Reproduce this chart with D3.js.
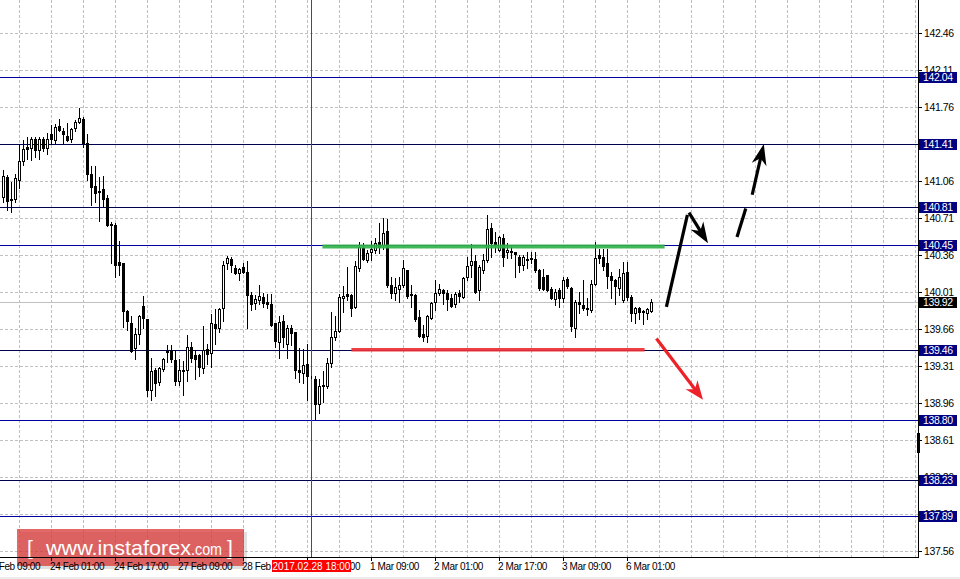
<!DOCTYPE html>
<html>
<head>
<meta charset="utf-8">
<script src="https://cdnjs.cloudflare.com/ajax/libs/d3/7.8.5/d3.min.js"></script>
<style>
body { margin: 0; background: #fff; }
svg { display: block; font-family: "Liberation Sans", Arial, sans-serif; }
</style>
</head>
<body>
<svg width="960" height="579"></svg>
<script>
// H1 candles, 23 Feb 13:00 .. 6 Mar 07:00
const opens = [140.91,141.10,140.89,140.89,141.07,141.25,141.38,141.37,141.46,141.35,141.46,141.37,141.50,141.45,141.58,141.53,141.49,141.46,141.56,141.62,
141.65,141.42,141.13,141.01,140.97,140.98,140.90,140.64,140.64,140.29,140.28,139.83,139.72,139.48,139.61,139.88,139.75,139.08,139.27,139.16,
139.28,139.45,139.46,139.37,139.17,139.27,139.27,139.49,139.41,139.41,139.29,139.47,139.43,139.71,139.67,139.86,140.28,140.32,140.24,140.19,
140.25,140.20,139.98,139.91,139.93,139.96,139.92,139.90,139.72,139.54,139.74,139.52,139.67,139.63,139.27,139.24,139.33,139.21,139.19,138.95,
139.12,139.12,139.34,139.58,139.64,139.95,139.99,139.98,139.87,140.24,140.43,140.31,140.39,140.41,140.48,140.45,140.59,140.08,140.00,140.04,
140.08,140.22,139.99,139.98,139.77,139.61,139.59,139.76,139.92,140.00,140.03,140.00,139.95,139.90,140.00,139.96,140.15,140.27,140.30,140.03,
140.22,140.31,140.62,140.48,140.41,140.52,140.39,140.40,140.39,140.34,140.27,140.32,140.33,140.32,140.22,140.15,140.17,140.04,139.94,140.03,
139.95,140.13,140.05,139.67,139.92,139.89,139.86,139.84,140.09,140.36,140.34,140.28,140.16,140.12,140.05,139.93,140.20,139.96,139.81,139.86,
139.82,139.81,139.83];
const highs = [141.16,141.12,141.05,141.13,141.40,141.45,141.48,141.48,141.48,141.48,141.48,141.51,141.59,141.60,141.65,141.56,141.61,141.56,141.64,141.75,
141.67,141.50,141.20,141.20,141.10,141.11,140.93,140.67,140.66,140.49,140.28,139.84,139.78,139.67,139.79,139.97,139.75,139.39,139.29,139.30,
139.39,139.51,139.51,139.46,139.38,139.36,139.60,139.54,139.46,139.42,139.69,139.52,139.80,139.85,139.86,140.30,140.35,140.34,140.27,140.24,
140.28,140.30,140.01,139.98,140.08,140.00,139.99,139.99,139.72,139.78,139.79,139.70,139.70,139.63,139.48,139.47,139.52,139.22,139.22,139.19,
139.26,139.39,139.82,139.78,139.99,140.07,140.25,139.99,140.30,140.48,140.47,140.41,140.49,140.52,140.66,140.71,140.70,140.15,140.14,140.15,
140.31,140.22,140.08,139.99,139.84,139.70,139.79,139.92,140.12,140.09,140.04,140.03,139.99,140.01,140.03,140.15,140.34,140.46,140.36,140.27,
140.37,140.74,140.66,140.58,140.54,140.56,140.47,140.45,140.39,140.36,140.36,140.39,140.39,140.39,140.23,140.23,140.17,140.06,140.04,140.05,
140.15,140.15,140.06,139.93,140.01,140.12,139.95,140.12,140.48,140.42,140.42,140.42,140.20,140.13,140.23,140.29,140.29,139.98,139.87,139.87,
139.84,139.86,139.94];
const lows = [140.86,140.79,140.77,140.86,140.99,141.21,141.27,141.26,141.29,141.27,141.34,141.32,141.42,141.42,141.53,141.42,141.44,141.43,141.53,141.61,
141.38,141.07,140.83,140.86,140.68,140.82,140.63,140.28,140.15,140.17,139.68,139.65,139.44,139.38,139.52,139.67,139.03,138.99,139.03,139.13,
139.26,139.35,139.35,139.13,139.13,139.04,139.17,139.35,139.19,139.22,139.24,139.33,139.30,139.52,139.63,139.74,140.23,140.20,140.18,140.12,
140.19,139.67,139.84,139.85,139.90,139.87,139.86,139.69,139.49,139.39,139.49,139.39,139.51,139.20,139.16,139.15,138.99,139.20,138.81,138.87,
138.97,139.10,139.30,139.56,139.63,139.82,139.93,139.78,139.86,140.21,140.31,140.29,140.31,140.38,140.38,140.42,140.06,139.95,139.93,139.92,
140.06,139.95,139.87,139.74,139.58,139.55,139.54,139.75,139.84,139.98,139.90,139.84,139.87,139.87,139.92,139.95,140.12,140.15,140.00,139.93,
140.19,140.29,140.34,140.39,140.40,140.26,140.33,140.33,140.15,140.20,140.22,140.24,140.28,140.20,140.03,140.03,140.02,139.94,139.89,139.87,
139.92,140.05,139.64,139.58,139.81,139.84,139.79,139.82,140.08,140.28,140.22,140.05,139.95,139.90,139.98,139.92,139.93,139.74,139.72,139.75,
139.71,139.75,139.82];
const closes = [141.11,140.87,140.88,141.09,141.25,141.36,141.36,141.46,141.35,141.46,141.37,141.46,141.46,141.57,141.54,141.50,141.45,141.55,141.62,141.66,
141.42,141.13,141.00,140.95,140.96,140.89,140.64,140.65,140.27,140.27,139.83,139.74,139.45,139.61,139.78,139.76,139.08,139.26,139.15,139.29,
139.38,139.44,139.38,139.17,139.27,139.26,139.49,139.39,139.38,139.30,139.46,139.42,139.72,139.67,139.85,140.27,140.33,140.27,140.19,140.23,
140.20,139.98,139.90,139.94,139.97,139.91,139.90,139.70,139.55,139.73,139.58,139.67,139.62,139.27,139.25,139.32,139.22,139.21,138.95,139.12,
139.13,139.34,139.58,139.64,139.96,139.97,139.97,139.86,140.26,140.44,140.32,140.38,140.42,140.47,140.44,140.57,140.08,140.00,140.06,140.08,
140.24,139.97,139.98,139.75,139.59,139.58,139.78,139.91,140.00,140.04,140.00,139.94,139.88,139.99,139.97,140.14,140.26,140.30,140.01,140.25,
140.31,140.61,140.47,140.45,140.53,140.34,140.41,140.39,140.37,140.27,140.34,140.31,140.32,140.22,140.05,140.04,140.03,139.95,140.01,139.95,
140.12,140.07,139.69,139.92,139.90,139.86,139.85,140.09,140.33,140.33,140.26,140.16,140.12,140.07,140.15,140.19,139.96,139.81,139.86,139.82,
139.83,139.85,139.92];

const priceTicks = [142.46, 142.11, 141.76, 141.41, 141.06, 140.71, 140.36, 140.01, 139.66, 139.31, 138.96, 138.61, 138.26, 137.91, 137.56];
const levels = [142.04, 141.41, 140.81, 140.45, 139.46, 138.80, 138.23, 137.89];
const levelColors = ["#0000a0", "#000050", "#000050", "#0000a0", "#000050", "#0000a0", "#000050", "#0000a0"];
const timeIdx = [-4, 12, 28, 44, 60, 76, 92, 108, 124, 140, 156];
const timeLabels = ["23 Feb 09:00", "24 Feb 01:00", "24 Feb 17:00", "27 Feb 09:00", "28 Feb 01:00", "28 Feb 17:00",
  "1 Mar 09:00", "2 Mar 01:00", "2 Mar 17:00", "3 Mar 09:00", "6 Mar 01:00"];
const bid = 139.92;
const crossIdx = 77;
const crossLabel = "2017.02.28 18:00";

// drawn objects: [candle index, price]
const resistance = [[79.85, 140.44], [165.4, 140.44]];
const support = [[87.1, 139.46], [160.4, 139.46]];
const blackLines = [
  { pts: [[165.85, 139.87], [171.1, 140.74]], head: false },
  { pts: [[171.5, 140.76], [176.25, 140.47]], head: true },
  { pts: [[183.5, 140.53], [185.7, 140.80]], head: false },
  { pts: [[187.3, 140.93], [190.2, 141.41]], head: true }
];
const redArrow = [[163.35, 139.57], [175.0, 138.99]];

const svg = d3.select("svg");
const axisX = 918, axisY = 557;

const x = d3.scaleLinear().domain([0, opens.length - 1]).range([3, 651]);
const y = d3.scaleLinear().domain([137.56, 142.46]).range([551, 33]);
const px = i => Math.round(x(i));
const py = v => Math.round(y(v));

// grid
const grid = svg.append("g").attr("shape-rendering", "crispEdges")
  .attr("stroke", "#c0c0c0").attr("stroke-dasharray", "3,2");
grid.selectAll(".gh").data(priceTicks).join("line").attr("class", "gh")
  .attr("x1", 0).attr("x2", axisX).attr("y1", d => py(d) + 0.5).attr("y2", d => py(d) + 0.5);
grid.selectAll(".gv").data(d3.range(4, 232, 8).filter(i => x(i) < axisX)).join("line").attr("class", "gv")
  .attr("x1", d => px(d) + 0.5).attr("x2", d => px(d) + 0.5).attr("y1", 0).attr("y2", axisY);

// level lines, bid line, crosshair
const lines = svg.append("g").attr("shape-rendering", "crispEdges");
lines.selectAll(".lvl").data(levels).join("line").attr("class", "lvl")
  .attr("x1", 0).attr("x2", axisX).attr("y1", d => py(d) + 0.5).attr("y2", d => py(d) + 0.5)
  .attr("stroke", (d, k) => levelColors[k]);
lines.append("line").attr("x1", 0).attr("x2", axisX)
  .attr("y1", py(bid) + 0.5).attr("y2", py(bid) + 0.5).attr("stroke", "#c0c0c0");
lines.append("line").attr("x1", px(crossIdx) + 0.5).attr("x2", px(crossIdx) + 0.5)
  .attr("y1", 0).attr("y2", axisY).attr("stroke", "#ff0000");

// candles
const candles = d3.range(opens.length).map(i => ({ i, o: opens[i], h: highs[i], l: lows[i], c: closes[i] }));
const cg = svg.append("g").attr("shape-rendering", "crispEdges");
const c = cg.selectAll("g").data(candles).join("g");
c.append("line")
  .attr("x1", d => px(d.i) + 0.5).attr("x2", d => px(d.i) + 0.5)
  .attr("y1", d => py(d.h)).attr("y2", d => py(d.l) + 1)
  .attr("stroke", "#000");
c.filter(d => d.c >= d.o).append("rect")
  .attr("x", d => px(d.i) - 0.5).attr("width", 2)
  .attr("y", d => py(d.c) + 0.5).attr("height", d => py(d.o) - py(d.c))
  .attr("fill", "#fff").attr("stroke", "#000");
c.filter(d => d.c < d.o).append("rect")
  .attr("x", d => px(d.i) - 1).attr("width", 3)
  .attr("y", d => py(d.o)).attr("height", d => py(d.c) - py(d.o) + 1)
  .attr("fill", "#000");

// support / resistance
const pt = p => [x(p[0]), y(p[1])];
svg.append("line").attr("x1", pt(resistance[0])[0]).attr("y1", pt(resistance[0])[1])
  .attr("x2", pt(resistance[1])[0]).attr("y2", pt(resistance[1])[1])
  .attr("stroke", "#33b24a").attr("stroke-width", 4).attr("opacity", 0.92);
svg.append("line").attr("x1", pt(support[0])[0]).attr("y1", pt(support[0])[1] - 0.5)
  .attr("x2", pt(support[1])[0]).attr("y2", pt(support[1])[1] - 0.5)
  .attr("stroke", "#ec2f35").attr("stroke-width", 3.5).attr("opacity", 0.92);

// arrows
function arrow(pts, color, head, len, hw) {
  const [a, b] = pts.map(pt);
  const dx = b[0] - a[0], dy = b[1] - a[1], n = Math.hypot(dx, dy);
  const ux = dx / n, uy = dy / n;
  const end = head ? [b[0] - ux * len * 0.6, b[1] - uy * len * 0.6] : b;
  svg.append("line").attr("x1", a[0]).attr("y1", a[1]).attr("x2", end[0]).attr("y2", end[1])
    .attr("stroke", color).attr("stroke-width", 3.2);
  if (head) {
    const bx = b[0] - ux * len, by = b[1] - uy * len;
    const nx = b[0] - ux * len * 0.7, ny = b[1] - uy * len * 0.7;
    svg.append("path")
      .attr("d", `M${b[0]},${b[1]}L${bx - uy * hw},${by + ux * hw}L${nx},${ny}L${bx + uy * hw},${by - ux * hw}Z`)
      .attr("fill", color);
  }
}
blackLines.forEach(l => arrow(l.pts, "#000", l.head, 21, 7.5));
arrow(redArrow, "#ec2228", true, 19, 7.5);

// watermark
const wm = svg.append("g");
wm.append("rect").attr("x", 20).attr("y", 532).attr("width", 227).attr("height", 37)
  .attr("fill", "#000").attr("opacity", 0.12);
wm.append("rect").attr("x", 17).attr("y", 529).attr("width", 227).attr("height", 37)
  .attr("fill", "rgb(218,58,58)").attr("opacity", 0.76);
wm.append("text").attr("x", 27).attr("y", 555).attr("font-size", 21).attr("fill", "#fff").text("[");
wm.append("text").attr("x", 46).attr("y", 555).attr("font-size", 21).attr("fill", "#fff")
  .attr("textLength", 145).attr("lengthAdjust", "spacingAndGlyphs").text("www.instaforex");
wm.append("text").attr("x", 191).attr("y", 555).attr("font-size", 16).attr("fill", "#fff")
  .attr("textLength", 31).attr("lengthAdjust", "spacingAndGlyphs").text(".com");
wm.append("text").attr("x", 227).attr("y", 555).attr("font-size", 21).attr("fill", "#fff").text("]");

// axes
const ax = svg.append("g").attr("shape-rendering", "crispEdges");
ax.append("line").attr("x1", axisX + 0.5).attr("x2", axisX + 0.5).attr("y1", 0).attr("y2", axisY + 1).attr("stroke", "#000");
ax.append("line").attr("x1", 0).attr("x2", axisX + 1).attr("y1", axisY + 0.5).attr("y2", axisY + 0.5).attr("stroke", "#000");
ax.selectAll(".pt").data(priceTicks).join("line").attr("class", "pt")
  .attr("x1", axisX + 1).attr("x2", axisX + 4).attr("y1", d => py(d) + 0.5).attr("y2", d => py(d) + 0.5).attr("stroke", "#000");
ax.selectAll(".tt").data(timeIdx).join("line").attr("class", "tt")
  .attr("x1", d => px(d) + 0.5).attr("x2", d => px(d) + 0.5).attr("y1", axisY + 1).attr("y2", axisY + 4).attr("stroke", "#000");

svg.append("g").selectAll("text").data(priceTicks).join("text")
  .attr("x", 924).attr("y", d => py(d) + 4).attr("font-size", 10.5).attr("letter-spacing", -0.4)
  .attr("fill", "#000").text(d => d.toFixed(2));
svg.append("g").selectAll("text").data(timeIdx).join("text")
  .attr("x", d => px(d) - 1).attr("y", 570).attr("font-size", 10).attr("letter-spacing", -0.4)
  .attr("fill", "#000").text((d, k) => timeLabels[k]);

// level boxes on the price axis
const boxes = svg.append("g").selectAll("g").data(levels.map(v => ({ v, bg: "#000080" })).concat([{ v: bid, bg: "#000" }])).join("g");
boxes.append("rect").attr("x", 919).attr("y", d => py(d.v) - 5).attr("width", 38).attr("height", 11)
  .attr("fill", d => d.bg).attr("shape-rendering", "crispEdges");
boxes.append("text").attr("x", 923).attr("y", d => py(d.v) + 4).attr("font-size", 10.5).attr("letter-spacing", -0.4)
  .attr("fill", "#fff").text(d => d.v.toFixed(2));

// marker on price axis
svg.append("rect").attr("x", axisX - 1).attr("width", 3)
  .attr("y", py(138.68)).attr("height", py(138.49) - py(138.68)).attr("fill", "#000");

// crosshair time label
svg.append("rect").attr("x", px(crossIdx) - 39).attr("y", 560).attr("width", 79).attr("height", 12)
  .attr("fill", "#ff0000").attr("shape-rendering", "crispEdges");
svg.append("text").attr("x", px(crossIdx) + 0.5).attr("y", 570).attr("text-anchor", "middle")
  .attr("font-size", 10).attr("fill", "#fff").text(crossLabel);

// window edge
svg.append("rect").attr("x", 0).attr("y", 577).attr("width", 960).attr("height", 2).attr("fill", "#ececec");
</script>
</body>
</html>
